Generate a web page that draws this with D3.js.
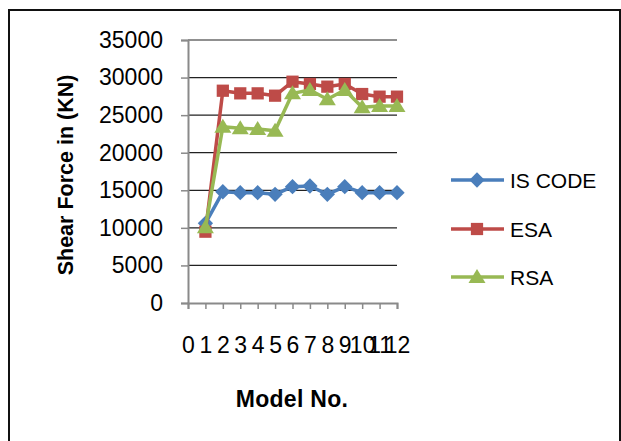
<!DOCTYPE html>
<html>
<head>
<meta charset="utf-8">
<script src="https://cdn.jsdelivr.net/npm/d3@7"></script>
<style>
  html, body { margin: 0; padding: 0; background: #fff; }
  svg { display: block; font-family: "Liberation Sans", Arial, sans-serif; }
</style>
</head>
<body>
<svg id="chart" width="621" height="441"></svg>
<script>
// Shear force per model, three analysis methods
const models = [1, 2, 3, 4, 5, 6, 7, 8, 9, 10, 11, 12];
const isCode = [10600, 14800, 14680, 14680, 14460, 15480, 15570, 14460, 15480, 14680, 14680, 14680];
const esa    = [9490, 28250, 27900, 27900, 27590, 29450, 29150, 28790, 29150, 27810, 27460, 27460];
const rsa    = [10070, 23460, 23250, 23160, 22930, 27900, 28350, 27110, 28350, 26040, 26220, 26220];
const xTicks = [0, 1, 2, 3, 4, 5, 6, 7, 8, 9, 10, 11, 12];
const yTicks = [0, 5000, 10000, 15000, 20000, 25000, 30000, 35000];

const seriesList = [
  { name: "IS CODE", values: isCode, color: "#4a7ebb", marker: "diamond" },
  { name: "ESA",     values: esa,    color: "#be4b48", marker: "square" },
  { name: "RSA",     values: rsa,    color: "#98b954", marker: "triangle" }
];

const svg = d3.select("#chart");

// chart frame
svg.append("rect")
  .attr("x", 9).attr("y", 10).attr("width", 611).attr("height", 440)
  .attr("fill", "none").attr("stroke", "#111").attr("stroke-width", 2);

const plotLeft = 188, plotRight = 397, plotTop = 40, plotBottom = 303;
const x = d3.scaleLinear().domain([0, 12]).range([plotLeft, plotRight]);
const y = d3.scaleLinear().domain([0, 35000]).range([plotBottom, plotTop]);

// gridlines
svg.append("g").selectAll("line")
  .data(yTicks.filter(v => v > 0))
  .join("line")
  .attr("x1", plotLeft).attr("x2", plotRight)
  .attr("y1", d => y(d)).attr("y2", d => y(d))
  .attr("stroke", "#222").attr("stroke-width", 1.2);

// y axis
const yAxis = svg.append("g")
  .attr("transform", `translate(${plotLeft},0)`)
  .call(d3.axisLeft(y).tickValues(yTicks).tickSize(7).tickPadding(18).tickFormat(d3.format("d")));
yAxis.select(".domain").attr("stroke", "#8a8a8a").attr("stroke-width", 2);
yAxis.selectAll(".tick line").attr("stroke", "#8a8a8a").attr("stroke-width", 1.5);
yAxis.selectAll("text").attr("font-size", 23).attr("fill", "#000").attr("font-family", "Liberation Sans, Arial, sans-serif");

// x axis
const xAxis = svg.append("g")
  .attr("transform", `translate(0,${plotBottom})`)
  .call(d3.axisBottom(x).tickValues(xTicks).tickSize(6).tickPadding(28).tickFormat(d3.format("d")));
xAxis.select(".domain").attr("stroke", "#8a8a8a").attr("stroke-width", 2);
xAxis.selectAll(".tick line").attr("stroke", "#8a8a8a").attr("stroke-width", 1.5);
xAxis.selectAll("text").attr("font-size", 23).attr("fill", "#000").attr("font-family", "Liberation Sans, Arial, sans-serif");

// markers
function markerPath(type) {
  if (type === "diamond") return d3.symbol().type(d3.symbolDiamond2).size(150)();
  if (type === "square") return d3.symbol().type(d3.symbolSquare).size(150)();
  return "M0,-8L8.5,6L-8.5,6Z";
}

const line = d3.line().x((d, i) => x(models[i])).y(d => y(d));

seriesList.forEach(s => {
  svg.append("path")
    .datum(s.values)
    .attr("fill", "none")
    .attr("stroke", s.color)
    .attr("stroke-width", 3.5)
    .attr("stroke-linejoin", "round")
    .attr("d", line);
  svg.append("g").selectAll("path")
    .data(s.values)
    .join("path")
    .attr("transform", (d, i) => `translate(${x(models[i])},${y(d)})`)
    .attr("d", markerPath(s.marker))
    .attr("fill", s.color);
});

// legend
const legendY = [180, 229, 277];
const legend = svg.append("g");
seriesList.forEach((s, i) => {
  const g = legend.append("g").attr("transform", `translate(0,${legendY[i]})`);
  g.append("line").attr("x1", 451).attr("x2", 504).attr("y1", 0).attr("y2", 0)
    .attr("stroke", s.color).attr("stroke-width", 3.5);
  g.append("path").attr("transform", "translate(477,0)").attr("d", markerPath(s.marker)).attr("fill", s.color);
  g.append("text").attr("x", 510).attr("y", 0).attr("dy", "0.36em")
    .attr("font-size", 21).attr("fill", "#000").text(s.name);
});

// axis titles
svg.append("text")
  .attr("x", 292).attr("y", 407)
  .attr("text-anchor", "middle")
  .attr("font-size", 23).attr("font-weight", "bold").attr("letter-spacing", 0.3)
  .text("Model No.");

svg.append("text")
  .attr("transform", "translate(65,175) rotate(-90)")
  .attr("text-anchor", "middle").attr("dy", "0.36em")
  .attr("font-size", 21.5).attr("font-weight", "bold")
  .text("Shear Force in (KN)");
</script>
</body>
</html>
